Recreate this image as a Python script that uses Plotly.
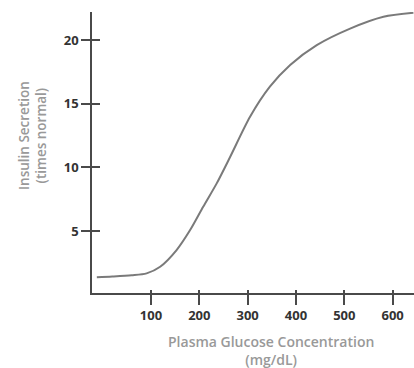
import plotly.graph_objects as go

glucose = [-12, 20, 60, 91, 119, 153, 181, 208, 236, 264, 305, 346, 388, 443, 512, 581, 643]
insulin = [1.36, 1.42, 1.52, 1.67, 2.19, 3.5, 5.07, 6.9, 8.74, 10.83, 13.97, 16.33, 18.04, 19.6, 20.9, 21.83, 22.14]
x_ticks = [100, 200, 300, 400, 500, 600]
y_ticks = [5, 10, 15, 20]
x_title = ["Plasma Glucose Concentration", "(mg/dL)"]
y_title = ["Insulin Secretion", "(times normal)"]

XR = [-22, 644.2]
YR = [0.13, 22.2]
axis_col = "#4a4a4a"
font = "Open Sans"

fig = go.Figure()
fig.add_trace(go.Scatter(x=glucose, y=insulin, mode="lines",
                         line=dict(color="#7a7a7a", width=2, shape="spline", smoothing=0.8),
                         hoverinfo="skip", showlegend=False, cliponaxis=False))
fig.add_trace(go.Scatter(x=[glucose[0]], y=[insulin[0]], xaxis="x2", yaxis="y2",
                         mode="markers", marker=dict(opacity=0), showlegend=False, hoverinfo="skip"))

fig.update_layout(
    width=414, height=368,
    margin=dict(l=92, r=0, t=12, b=75),
    paper_bgcolor="white", plot_bgcolor="white",
    font=dict(family=font),
    xaxis=dict(range=XR, showgrid=False, zeroline=False, showline=True, automargin=False,
               linecolor=axis_col, linewidth=1.5,
               tickmode="array", tickvals=x_ticks, ticks="outside", ticklen=10,
               tickwidth=1.5, tickcolor=axis_col,
               tickfont=dict(size=13, color="#333", family=font, weight="bold")),
    yaxis=dict(range=YR, showgrid=False, zeroline=False, showline=True, automargin=False,
               linecolor=axis_col, linewidth=1.5,
               tickmode="array", tickvals=y_ticks, ticks="outside", ticklen=9,
               tickwidth=1.5, tickcolor=axis_col,
               tickfont=dict(size=13, color="#333", family=font, weight="bold")),
    xaxis2=dict(range=XR, overlaying="x", anchor="y", side="bottom", showgrid=False,
                automargin=False,
                zeroline=False, showline=False, tickmode="array", tickvals=x_ticks,
                ticks="inside", ticklen=3, tickwidth=1.5, tickcolor=axis_col,
                showticklabels=False),
    yaxis2=dict(range=YR, overlaying="y", anchor="x", side="left", showgrid=False,
                automargin=False,
                zeroline=False, showline=False, tickmode="array", tickvals=y_ticks,
                ticks="inside", ticklen=8, tickwidth=1.5, tickcolor=axis_col,
                showticklabels=False),
)

tcol = "#999999"
common = dict(xref="paper", yref="paper", showarrow=False, xanchor="center", yanchor="middle")
fig.add_annotation(text="<br>".join(x_title), x=0.556, y=-0.203, align="center",
                   font=dict(size=14, color=tcol, family=font, weight=600), **common)
fig.add_annotation(text="<br>".join(y_title), x=-0.185, y=0.56, textangle=-90, align="center",
                   font=dict(size=13.5, color=tcol, family=font, weight=600), **common)

fig.write_html("out.html", config={"displayModeBar": False},
               post_script="document.body.style.margin='0';document.body.style.overflow='hidden';")
